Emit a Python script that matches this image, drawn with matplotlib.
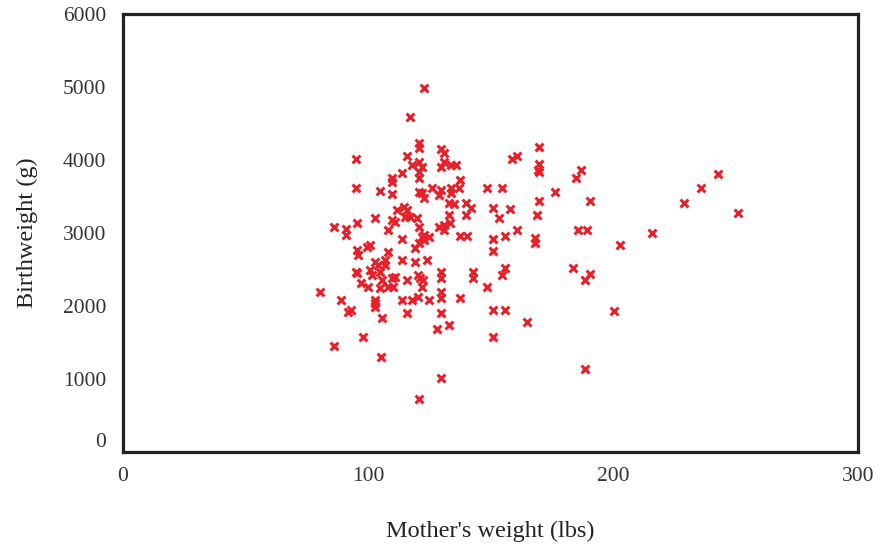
import numpy as np
import matplotlib.pyplot as plt
import matplotlib.transforms as mtransforms

plt.rcParams['font.family'] = ['Liberation Serif', 'DejaVu Serif']

# mother's weight (lbs) and birthweight (g)
lwt = [123, 117, 121, 121, 130, 131, 95, 116, 121, 118, 122, 121, 131, 130, 134,
       114, 110, 110, 95, 105, 121, 126, 130, 134, 137, 121,
       110, 122, 123, 129, 134, 133, 114.5, 112, 116, 110, 111, 103, 115, 117, 120,
       133, 86, 91, 91, 95.5, 108, 121, 129, 131, 133.5, 131, 114, 122, 123, 121,
       119, 123, 125, 95.5, 96, 99.5, 101, 108, 114, 119, 124, 103, 104, 107, 107,
       95, 95.5, 101, 101.6, 105, 105.6, 109.7, 111, 110.4, 97, 100, 105, 108, 116,
       120.6, 121.3, 122.6, 122, 130, 130, 130, 80.5, 89, 103, 114, 118, 120.6, 125,
       130,
       103, 103, 92, 93, 105.6, 116, 130, 128, 133, 98, 86, 105.4, 130, 121,
       170, 158.6, 160.7, 170, 169.5, 170, 187, 185, 136, 137.6, 148.4, 154.6, 176.3,
       170, 190.6, 135, 140, 142, 140, 151, 153.6, 158, 169, 137.6, 140.3, 151.2,
       156, 160.7, 168, 168, 185.8, 189.5, 151, 143, 143, 156, 154.6, 148.7, 183.8,
       190.8, 188.5, 137.6,
       151, 156, 165, 151, 188.5,
       243, 236, 229, 251, 216, 203, 200.5]
bwt = [4990, 4590, 4238, 4167, 4150, 4100, 4010, 4054, 3977, 3930, 3900, 3840, 3970,
       3900, 3930, 3820, 3750, 3700, 3610, 3575, 3750, 3610, 3590, 3610, 3610, 3566,
       3540, 3552, 3475, 3520, 3543, 3406, 3360, 3315, 3315, 3178, 3155, 3201, 3224,
       3224, 3201, 3247, 3087, 3050, 2973, 3132, 3041, 3087, 3087, 3110, 3132, 3041,
       2913, 2950, 2904, 2858, 2790, 2973, 2950, 2767, 2698, 2813, 2835, 2744, 2630,
       2607, 2630, 2607, 2561, 2561, 2630, 2470, 2447, 2493, 2424, 2470, 2356, 2379,
       2401, 2265, 2310, 2265, 2242, 2265, 2356, 2424, 2379, 2356, 2265, 2470, 2379,
       2196, 2196, 2082, 2082, 2082, 2082, 2118, 2082, 2105,
       2036, 1991, 1922, 1945, 1831, 1899, 1899, 1680, 1740, 1580, 1452, 1297, 1009,
       726,
       4183, 4014, 4055, 3945, 3863, 3840, 3863, 3749, 3930, 3727, 3612, 3612, 3566,
       3443, 3443, 3397, 3406, 3338, 3247, 3338, 3201, 3324, 3247, 2959, 2959, 2913,
       2959, 3041, 2927, 2858, 3041, 3041, 2758, 2470, 2379, 2516, 2424, 2265, 2516,
       2438, 2356, 2105,
       1945, 1945, 1776, 1580, 1132,
       3804, 3612, 3406, 3278, 3004, 2835, 1936]

fig = plt.figure(figsize=(8.74, 5.45), dpi=100)
ax = fig.add_axes([0.1407, 0.1706, 0.841, 0.8037])

ax.scatter(lwt, bwt, marker='x', s=32, linewidths=2.2, color='#e8202a', zorder=3)

ax.set_xlim(0, 300)
ax.set_ylim(0, 6000)
ax.set_xticks([0, 100, 200, 300])
ax.set_yticks([0, 1000, 2000, 3000, 4000, 5000, 6000])
ax.tick_params(length=0, labelsize=15.5, colors='#333333')
ax.tick_params(axis='x', pad=11)
ax.tick_params(axis='y', pad=12)

# lift the zero label on the y axis clear of the x axis line
zero_lbl = ax.get_yticklabels()[0]
zero_lbl.set_transform(zero_lbl.get_transform() +
                       mtransforms.ScaledTranslation(0, 0.12, fig.dpi_scale_trans))

for s in ax.spines.values():
    s.set_linewidth(2.3)
    s.set_color('#222222')

ax.set_xlabel("Mother's weight (lbs)", fontsize=17.5, labelpad=25, color='#222222')
ax.set_ylabel('Birthweight (g)', fontsize=17.5, labelpad=18, color='#222222')

plt.savefig('out.png', dpi=100)
